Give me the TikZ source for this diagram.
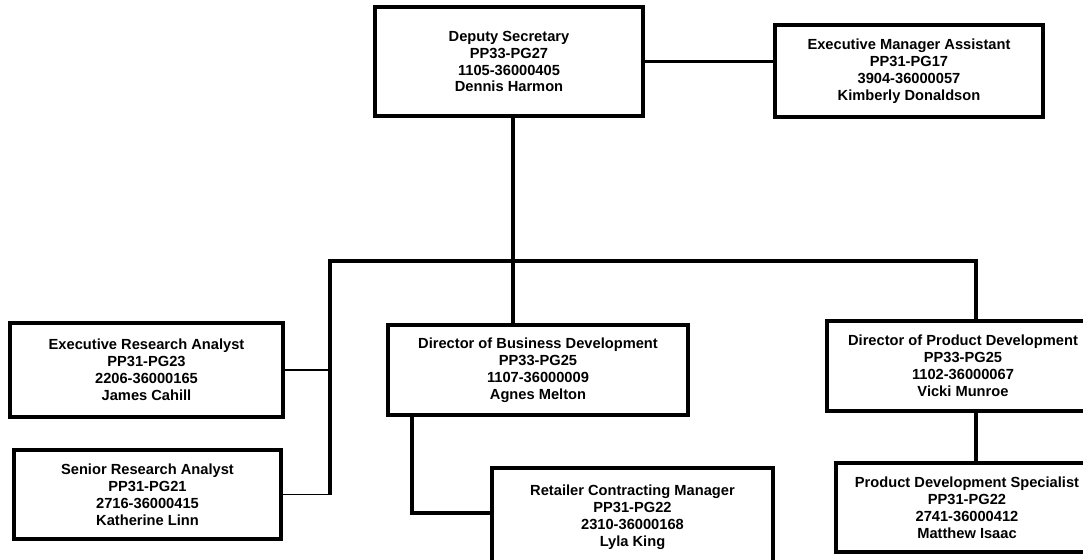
\documentclass[tikz,border=0pt]{standalone}
\usepackage{fontspec}
\setmainfont{Liberation Sans}
\usepackage{tikz}
\tikzset{
  post/.style={draw=black, line width=2.4pt, fill=white, align=center,
    font=\fontsize{11}{12.7}\selectfont\bfseries, inner sep=0pt},
  link/.style={draw=black, line width=2.4pt},
  thinlink/.style={draw=black, line width=1pt}
}

\begin{document}
\begin{tikzpicture}[x=0.75pt, y=-0.75pt]
  \clip (0,0) rectangle (1083,560);
  \fill[white] (0,0) rectangle (1083,560);
  % junctions of the reporting lines
  \coordinate (hub) at (513,261);
  \coordinate (lft) at (330,261);
  \coordinate (rgt) at (976,261);
  \coordinate (elb) at (412,513);
  % positions
  \node[post, minimum width=201pt, minimum height=81.75pt] (dep) at (509,61.5)
    {Deputy Secretary\\PP33-PG27\\1105-36000405\\Dennis Harmon};
  \node[post, minimum width=201pt, minimum height=69pt] (ema) at (909,71)
    {Executive Manager Assistant\\PP31-PG17\\3904-36000057\\Kimberly Donaldson};
  \node[post, minimum width=204.75pt, minimum height=70.5pt] (era) at (146.5,370)
    {Executive Research Analyst\\PP31-PG23\\2206-36000165\\James Cahill};
  \node[post, minimum width=200.25pt, minimum height=66.75pt] (sra) at (147.5,494.5)
    {Senior Research Analyst\\PP31-PG21\\2716-36000415\\Katherine Linn};
  \node[post, minimum width=225pt, minimum height=67.5pt] (bus) at (538,370)
    {Director of Business Development\\PP33-PG25\\1107-36000009\\Agnes Melton};
  \node[post, minimum width=210.75pt, minimum height=73.5pt] (ret) at (632.5,517)
    {Retailer Contracting Manager\\PP31-PG22\\2310-36000168\\Lyla King};
  \node[post, minimum width=204pt, minimum height=67.5pt] (pro) at (963,366)
    {Director of Product Development\\PP33-PG25\\1102-36000067\\Vicki Munroe};
  \node[post, minimum width=196.5pt, minimum height=66.75pt] (pds) at (967,507.5)
    {Product Development Specialist\\PP31-PG22\\2741-36000412\\Matthew Isaac};
  % reporting lines
  \draw[link] (dep.east) -- (dep.east -| ema.west);
  \draw[link] (dep.south -| hub) -- (hub |- bus.north);
  \draw[link] (lft |- sra.east) -- (lft) -- (rgt) -- (rgt |- pro.north);
  \draw[thinlink] (era.east) -- (era.east -| lft);
  \draw[thinlink] (sra.east) -- (sra.east -| lft);
  \draw[link] (elb |- bus.south) -- (elb) -- (elb -| ret.west);
  \draw[link] (pro.south -| rgt) -- (pds.north -| rgt);
\end{tikzpicture}
\end{document}
